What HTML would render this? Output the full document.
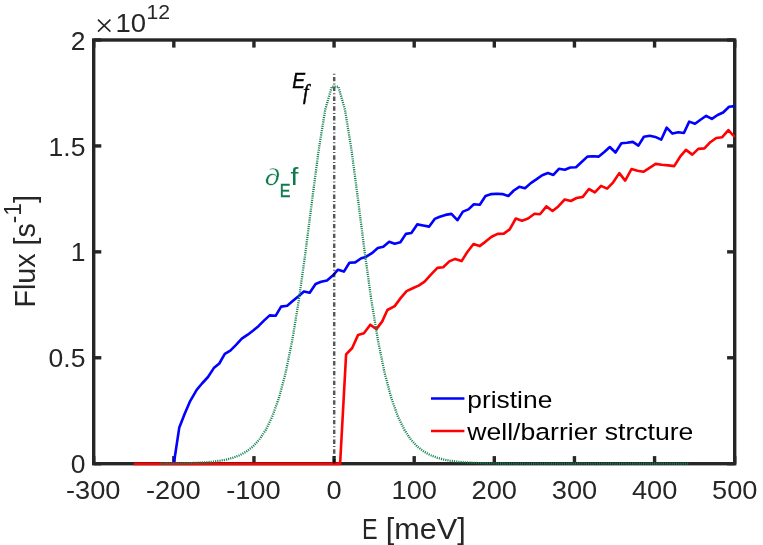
<!DOCTYPE html>
<html>
<head>
<meta charset="utf-8">
<title>Flux vs E</title>
<style>
html, body { margin: 0; padding: 0; background: #ffffff; }
body { width: 763px; height: 545px; overflow: hidden; }
svg { display: block; }
text { font-family: "Liberation Sans", sans-serif; }
svg { will-change: transform; opacity: 0.999; }
.tl text { font-size: 26.1px; fill: #262626; }
.al { font-size: 28.8px; fill: #262626; }
.lg { font-size: 24.3px; fill: #000; }
</style>
</head>
<body>
<svg width="763" height="545" viewBox="0 0 763 545">
<rect x="0" y="0" width="763" height="545" fill="#ffffff"/>
<!-- axes box -->
<rect x="93.7" y="40.0" width="641.0" height="423.7" fill="none" stroke="#262626" stroke-width="3.4"/>
<g stroke="#262626" stroke-width="3.4" fill="none">
<line x1="93.70" y1="463.7" x2="93.70" y2="456.09999999999997"/>
<line x1="93.70" y1="40.0" x2="93.70" y2="47.6"/>
<line x1="173.82" y1="463.7" x2="173.82" y2="456.09999999999997"/>
<line x1="173.82" y1="40.0" x2="173.82" y2="47.6"/>
<line x1="253.95" y1="463.7" x2="253.95" y2="456.09999999999997"/>
<line x1="253.95" y1="40.0" x2="253.95" y2="47.6"/>
<line x1="334.07" y1="463.7" x2="334.07" y2="456.09999999999997"/>
<line x1="334.07" y1="40.0" x2="334.07" y2="47.6"/>
<line x1="414.20" y1="463.7" x2="414.20" y2="456.09999999999997"/>
<line x1="414.20" y1="40.0" x2="414.20" y2="47.6"/>
<line x1="494.32" y1="463.7" x2="494.32" y2="456.09999999999997"/>
<line x1="494.32" y1="40.0" x2="494.32" y2="47.6"/>
<line x1="574.45" y1="463.7" x2="574.45" y2="456.09999999999997"/>
<line x1="574.45" y1="40.0" x2="574.45" y2="47.6"/>
<line x1="654.58" y1="463.7" x2="654.58" y2="456.09999999999997"/>
<line x1="654.58" y1="40.0" x2="654.58" y2="47.6"/>
<line x1="734.70" y1="463.7" x2="734.70" y2="456.09999999999997"/>
<line x1="734.70" y1="40.0" x2="734.70" y2="47.6"/>
<line x1="93.7" y1="463.70" x2="101.3" y2="463.70"/>
<line x1="734.7" y1="463.70" x2="727.1" y2="463.70"/>
<line x1="93.7" y1="357.77" x2="101.3" y2="357.77"/>
<line x1="734.7" y1="357.77" x2="727.1" y2="357.77"/>
<line x1="93.7" y1="251.85" x2="101.3" y2="251.85"/>
<line x1="734.7" y1="251.85" x2="727.1" y2="251.85"/>
<line x1="93.7" y1="145.93" x2="101.3" y2="145.93"/>
<line x1="734.7" y1="145.93" x2="727.1" y2="145.93"/>
<line x1="93.7" y1="40.00" x2="101.3" y2="40.00"/>
<line x1="734.7" y1="40.00" x2="727.1" y2="40.00"/>
</g>
<!-- tick labels -->
<g class="tl">
<text x="93.2" y="498.8" text-anchor="middle" textLength="54.5" lengthAdjust="spacingAndGlyphs">-300</text>
<text x="173.3" y="498.8" text-anchor="middle" textLength="54.5" lengthAdjust="spacingAndGlyphs">-200</text>
<text x="253.4" y="498.8" text-anchor="middle" textLength="54.5" lengthAdjust="spacingAndGlyphs">-100</text>
<text x="334.1" y="498.8" text-anchor="middle" textLength="15.1" lengthAdjust="spacingAndGlyphs">0</text>
<text x="414.2" y="498.8" text-anchor="middle" textLength="45.4" lengthAdjust="spacingAndGlyphs">100</text>
<text x="494.3" y="498.8" text-anchor="middle" textLength="45.4" lengthAdjust="spacingAndGlyphs">200</text>
<text x="574.5" y="498.8" text-anchor="middle" textLength="45.4" lengthAdjust="spacingAndGlyphs">300</text>
<text x="654.6" y="498.8" text-anchor="middle" textLength="45.4" lengthAdjust="spacingAndGlyphs">400</text>
<text x="734.7" y="498.8" text-anchor="middle" textLength="45.4" lengthAdjust="spacingAndGlyphs">500</text>
<text x="85.4" y="473.3" text-anchor="end" textLength="14.7" lengthAdjust="spacingAndGlyphs">0</text>
<text x="85.4" y="367.4" text-anchor="end" textLength="36.8" lengthAdjust="spacingAndGlyphs">0.5</text>
<text x="85.4" y="261.4" text-anchor="end" textLength="14.7" lengthAdjust="spacingAndGlyphs">1</text>
<text x="85.4" y="155.5" text-anchor="end" textLength="36.8" lengthAdjust="spacingAndGlyphs">1.5</text>
<text x="85.4" y="49.6" text-anchor="end" textLength="14.7" lengthAdjust="spacingAndGlyphs">2</text>
</g>
<!-- exponent -->
<g fill="#262626">
<path d="M98,19.6 L110.4,31.6 M110.4,19.6 L98,31.6" stroke="#262626" stroke-width="1.6" fill="none"/>
<text x="115.4" y="32.4" font-size="26.1" textLength="30.6" lengthAdjust="spacingAndGlyphs">10</text>
<text x="146.4" y="19.4" font-size="21" textLength="23.6" lengthAdjust="spacingAndGlyphs">12</text>
</g>
<!-- axis labels -->
<text class="al" x="361.9" y="538.7" textLength="15.6" lengthAdjust="spacingAndGlyphs">E</text>
<text class="al" x="385.8" y="538.7" textLength="80" lengthAdjust="spacingAndGlyphs">[meV]</text>
<text class="al" transform="translate(35.2,251.3) scale(1.045,1) rotate(-90)" text-anchor="middle" textLength="112.6" lengthAdjust="spacingAndGlyphs">Flux [s<tspan font-size="23" dy="-13.8">-1</tspan><tspan dy="13.8">]</tspan></text>
<!-- curves -->
<polyline points="173.8,463.7 179.3,427.4 184.8,413.6 190.3,400.8 196.7,389.8 202.0,383.5 208.0,377.0 213.8,368.1 219.3,363.5 224.8,353.8 230.3,350.6 235.8,345.1 241.8,338.7 247.7,334.7 253.2,330.5 258.7,325.9 264.2,320.4 269.7,315.4 275.6,315.8 281.1,306.6 287.2,305.7 292.7,301.1 298.2,296.5 304.0,291.4 309.7,292.8 315.6,284.0 321.1,281.8 327.0,280.4 332.8,275.6 338.0,269.7 343.9,271.6 349.4,262.8 355.2,262.4 361.3,258.2 365.9,256.9 371.9,253.2 377.8,248.1 383.3,246.8 389.2,241.8 394.7,243.7 400.4,242.2 405.9,233.9 411.4,233.0 417.2,224.4 423.2,225.5 429.2,226.6 434.7,218.9 439.8,216.7 445.5,214.9 451.4,213.9 457.4,220.2 462.9,211.6 468.4,209.4 473.9,204.2 479.8,204.8 485.5,196.0 491.4,194.1 496.9,193.8 502.4,194.1 508.3,196.0 513.8,190.5 519.3,186.8 525.0,188.3 530.8,183.1 536.3,179.4 542.2,175.2 547.9,173.0 553.4,174.9 558.9,168.8 564.8,169.7 570.3,167.5 576.0,167.2 581.9,161.7 587.4,156.6 592.9,156.2 598.8,156.6 604.3,152.0 609.8,147.0 615.5,152.5 621.4,143.2 626.9,142.8 632.8,141.9 638.4,145.6 643.9,136.7 649.8,135.8 655.3,136.9 661.2,139.7 666.7,127.6 672.4,133.6 678.3,132.2 683.9,133.0 689.2,121.6 695.0,123.7 700.5,119.7 706.2,115.8 711.9,118.9 717.6,115.0 723.1,112.5 729.1,106.7 734.7,106.1" fill="none" stroke="#0000ff" stroke-width="2.6" stroke-linejoin="round"/>
<polyline points="133.8,463.9 340.1,463.9 346.1,354.4 352.2,348.0 358.0,335.1 363.9,333.3 370.3,324.7 376.4,329.1 382.2,321.4 387.4,310.0 394.7,306.1 400.8,297.9 406.6,291.1 412.7,288.3 418.6,285.6 424.6,281.6 430.9,274.6 437.4,267.9 443.2,267.3 449.3,261.4 455.2,258.9 461.6,261.1 467.5,251.7 473.5,244.0 479.6,246.1 485.6,241.6 491.6,236.7 497.6,233.9 503.8,233.6 509.7,229.4 515.8,218.5 522.0,220.7 528.1,218.5 534.5,213.8 540.0,214.3 546.4,206.4 552.5,211.0 558.3,206.4 564.7,199.5 570.8,201.0 576.6,198.0 582.8,196.9 588.9,189.0 594.9,192.3 601.0,185.9 607.1,188.6 613.2,182.3 619.3,173.1 625.2,180.6 631.5,169.0 637.5,170.7 643.4,171.8 649.5,167.9 655.7,163.9 661.7,164.8 668.2,165.4 674.2,166.1 680.1,156.7 686.0,149.9 692.3,154.6 698.3,148.9 704.4,148.4 710.3,142.2 716.2,138.0 722.2,137.2 728.4,130.1 734.6,137.0" fill="none" stroke="#ff0000" stroke-width="2.6" stroke-linejoin="round"/>
<line x1="334.2" y1="73.7" x2="334.2" y2="463.7" stroke="#000000" stroke-opacity="0.66" stroke-width="2.45" stroke-dasharray="1 2.2 4.4 2.2"/>
<polyline points="160.2,463.6 166.8,463.5 173.4,463.5 180.0,463.4 186.6,463.2 193.2,463.0 199.8,462.7 206.4,462.3 213.0,461.7 219.6,460.8 226.2,459.6 232.8,457.8 239.4,455.3 246.0,451.8 252.6,446.8 259.2,439.8 265.8,429.9 272.4,416.3 279.0,397.7 285.6,372.9 292.2,340.6 298.8,300.4 305.4,252.9 312.0,201.0 318.6,150.7 325.2,109.8 331.8,86.7 338.4,86.7 345.0,109.8 351.6,150.7 358.2,201.0 364.8,252.9 371.4,300.4 378.0,340.6 384.6,372.9 391.2,397.7 397.8,416.3 404.4,429.9 411.0,439.8 417.6,446.8 424.2,451.8 430.8,455.3 437.4,457.8 444.0,459.6 450.6,460.8 457.2,461.7 463.8,462.3 470.4,462.7 477.0,463.0 483.6,463.2 490.2,463.4 496.8,463.5 503.4,463.5 510.0,463.6 516.6,463.6 523.2,463.6 529.8,463.7 536.4,463.7 543.0,463.7 549.6,463.7 556.2,463.7 562.8,463.7 569.4,463.7 576.0,463.7 582.6,463.7 589.2,463.7 595.8,463.7 602.4,463.7 609.0,463.7 615.6,463.7 622.2,463.7 628.8,463.7 635.4,463.7 642.0,463.7 648.6,463.7 655.2,463.7 661.8,463.7 668.4,463.7 675.0,463.7 681.6,463.7 688.2,463.7" fill="none" stroke="#12804f" stroke-width="2.3" stroke-dasharray="1.1 1.1"/>
<!-- annotations -->
<text x="292.2" y="88.3" font-size="22.6" font-style="italic" fill="#000" stroke="#000" stroke-width="0.45" textLength="12.8" lengthAdjust="spacingAndGlyphs">E</text>
<text x="303" y="99.4" font-size="20" font-style="italic" fill="#000" stroke="#000" stroke-width="0.45" style="font-family:'Liberation Serif',serif">f</text>
<g fill="#0e7a4c">
<text x="264.8" y="185.4" font-size="23.5" font-style="italic" stroke="#fff" stroke-width="0.45" textLength="15.4" lengthAdjust="spacingAndGlyphs">&#8706;</text>
<text x="279.8" y="196.5" font-size="17.8" stroke="#0e7a4c" stroke-width="0.45" textLength="10.7" lengthAdjust="spacingAndGlyphs">E</text>
<text x="290.4" y="184.7" font-size="23.5" textLength="7.9" lengthAdjust="spacingAndGlyphs">f</text>
</g>
<!-- legend -->
<line x1="431" y1="398.5" x2="464.4" y2="398.5" stroke="#0000ff" stroke-width="2.6"/>
<line x1="431" y1="431" x2="464.4" y2="431" stroke="#ff0000" stroke-width="2.6"/>
<text class="lg" x="467.3" y="407.5" textLength="85" lengthAdjust="spacingAndGlyphs">pristine</text>
<text class="lg" x="467.3" y="439.6" textLength="226.1" lengthAdjust="spacingAndGlyphs">well/barrier strcture</text>
</svg>
</body>
</html>
